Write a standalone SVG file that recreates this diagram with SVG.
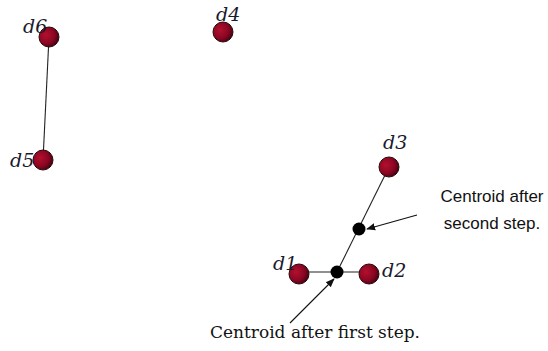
<svg xmlns="http://www.w3.org/2000/svg" width="548" height="351" viewBox="0 0 548 351">
  <style>
    .doc { stroke: #2a0a0a; stroke-width: 1; fill: url(#ball); }
    .cen { fill: #000; }
    .lbl { font-family: "DejaVu Serif", "Liberation Serif", serif; font-style: italic; font-size: 19px; fill: #1a1a2e; }
    .edge { stroke: #222; stroke-width: 1.1; fill: none; }
    .ptr { stroke: #111; stroke-width: 1.1; fill: none; marker-end: url(#head); }
    .note { font-family: "Liberation Sans", Arial, sans-serif; font-size: 17px; fill: #111; text-anchor: middle; }
    .cap { font-family: "DejaVu Serif", "Liberation Serif", serif; font-size: 16.5px; fill: #111; }
  </style>
  <defs>
    <radialGradient id="ball" cx="0.35" cy="0.4" r="0.7">
      <stop offset="0" stop-color="#b3102e"/>
      <stop offset="0.6" stop-color="#8a0622"/>
      <stop offset="1" stop-color="#3d0010"/>
    </radialGradient>
    <marker id="head" viewBox="0 0 10 10" refX="9" refY="5" markerWidth="9" markerHeight="9" markerUnits="userSpaceOnUse" orient="auto">
      <path d="M0,1 L10,5 L0,9 Z" fill="#111"/>
    </marker>
  </defs>

  <rect width="548" height="351" fill="#fff"/>

  <!-- connectors -->
  <g id="connectors">
    <line class="edge" x1="49" y1="37" x2="43" y2="160"/>
    <line class="edge" x1="389" y1="167" x2="337" y2="272"/>
    <line class="edge" x1="299" y1="272" x2="369" y2="272"/>
    <line class="ptr" x1="417" y1="215" x2="367" y2="229"/>
    <line class="ptr" x1="290" y1="323" x2="334" y2="279"/>
  </g>

  <!-- documents -->
  <g id="d6">
    <circle class="doc" cx="49" cy="37" r="10"/>
    <text class="lbl" x="23" y="33">d6</text>
  </g>
  <g id="d4">
    <circle class="doc" cx="223" cy="32" r="10"/>
    <text class="lbl" x="216" y="21">d4</text>
  </g>
  <g id="d5">
    <circle class="doc" cx="43" cy="160" r="10"/>
    <text class="lbl" x="10" y="167">d5</text>
  </g>
  <g id="d3">
    <circle class="doc" cx="389" cy="167" r="10"/>
    <text class="lbl" x="383" y="149">d3</text>
  </g>
  <g id="d1">
    <circle class="doc" cx="299" cy="274" r="10"/>
    <text class="lbl" x="273" y="270">d1</text>
  </g>
  <g id="d2">
    <circle class="doc" cx="369" cy="274" r="10"/>
    <text class="lbl" x="382" y="277">d2</text>
  </g>

  <!-- centroids -->
  <g id="centroid2">
    <circle class="cen" cx="359" cy="229" r="6.5"/>
  </g>
  <g id="centroid1">
    <circle class="cen" cx="337" cy="272" r="6.5"/>
  </g>

  <!-- notes -->
  <g id="note-second">
    <text class="note" x="492" y="202">Centroid after</text>
    <text class="note" x="492" y="229">second step.</text>
  </g>
  <g id="note-first">
    <text class="cap" x="210" y="338" textLength="210" lengthAdjust="spacingAndGlyphs">Centroid after first step.</text>
  </g>
</svg>
